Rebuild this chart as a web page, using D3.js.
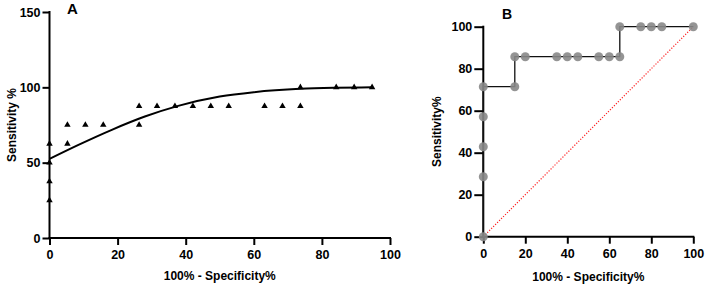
<!DOCTYPE html>
<html>
<head>
<meta charset="utf-8">
<script src="https://cdn.jsdelivr.net/npm/d3@7"></script>
<style>
  body { margin: 0; background: #fff; }
  svg text { font-family: "Liberation Sans", Arial, sans-serif; font-weight: bold; fill: #000; }
  .axis path, .axis line { stroke: #000; stroke-width: 2; }
</style>
</head>
<body>
<svg id="chart" width="705" height="285"></svg>
<script>
// panel A: observed points (100% - specificity, sensitivity)
var aPointsX = [0, 0, 0, 0, 5.26, 5.26, 10.53, 15.79, 26.32, 26.32, 31.58, 36.84, 42.11, 47.37, 52.63, 63.16, 68.42, 73.68, 73.68, 84.21, 89.47, 94.74];
var aPointsY = [25, 37.5, 50, 62.5, 62.5, 75, 75, 75, 75, 87.5, 87.5, 87.5, 87.5, 87.5, 87.5, 87.5, 87.5, 87.5, 100, 100, 100, 100];
// panel A: fitted curve
var aCurveX = [0, 8.5, 18.3, 28, 37.8, 50, 60, 73.6, 84, 94.7];
var aCurveY = [52.5, 61.8, 71.8, 80.6, 87.7, 93.9, 96.8, 99, 99.7, 100];
var aTicksX = [0, 20, 40, 60, 80, 100];
var aTicksY = [0, 50, 100, 150];

// panel B: ROC points and step line
var bPointsX = [0, 0, 0, 0, 0, 15, 15, 20, 35, 40, 45, 55, 60, 65, 65, 75, 80, 85, 100];
var bPointsY = [0, 28.57, 42.86, 57.14, 71.43, 71.43, 85.71, 85.71, 85.71, 85.71, 85.71, 85.71, 85.71, 85.71, 100, 100, 100, 100, 100];
var bStepX = [0, 0, 15, 15, 65, 65, 100];
var bStepY = [0, 71.43, 71.43, 85.71, 85.71, 100, 100];
var bTicks = [0, 20, 40, 60, 80, 100];

var svg = d3.select("#chart");

// ---------- panel A ----------
var xA = d3.scaleLinear().domain([0, 100]).range([49.5, 390]);
var yA = d3.scaleLinear().domain([0, 150]).range([238, 12]);

var gA = svg.append("g");

gA.append("g")
    .attr("class", "axis")
    .attr("transform", "translate(0," + yA(0) + ")")
    .call(d3.axisBottom(xA).tickValues(aTicksX).tickSize(7).tickSizeOuter(0).tickPadding(5))
    .call(function(g){ g.selectAll("text").attr("font-size", 12.5); g.select(".domain").attr("d", "M" + (xA(0) - 1) + ",0H" + (xA(100) + 1)); });

gA.append("g")
    .attr("class", "axis")
    .attr("transform", "translate(" + xA(0) + ",0)")
    .call(d3.axisLeft(yA).tickValues(aTicksY).tickSize(7).tickSizeOuter(0).tickPadding(2))
    .call(function(g){ g.selectAll("text").attr("font-size", 12.5); g.select(".domain").attr("d", "M0," + (yA(150) - 1) + "V" + (yA(0) + 1)); });

var curveA = d3.line()
    .x(function(d, i){ return xA(aCurveX[i]); })
    .y(function(d, i){ return yA(aCurveY[i]); })
    .curve(d3.curveMonotoneX);

gA.append("path")
    .attr("d", curveA(aCurveX))
    .attr("fill", "none")
    .attr("stroke", "#000")
    .attr("stroke-width", 2);

gA.selectAll(".tri")
    .data(aPointsX)
    .enter()
    .append("path")
    .attr("class", "tri")
    .attr("d", d3.symbol().type(d3.symbolTriangle).size(18))
    .attr("transform", function(d, i){ return "translate(" + xA(d) + "," + yA(aPointsY[i]) + ")"; })
    .attr("fill", "#000");

gA.append("text")
    .attr("x", 67)
    .attr("y", 14)
    .attr("font-size", 15)
    .text("A");

gA.append("text")
    .attr("x", (xA(0) + xA(100)) / 2)
    .attr("y", 280)
    .attr("text-anchor", "middle")
    .attr("font-size", 12)
    .text("100% - Specificity%");

gA.append("text")
    .attr("transform", "translate(16," + ((yA(0) + yA(150)) / 2) + ") rotate(-90)")
    .attr("text-anchor", "middle")
    .attr("font-size", 12)
    .text("Sensitivity %");

// ---------- panel B ----------
var xB = d3.scaleLinear().domain([0, 100]).range([483.3, 693.3]);
var yB = d3.scaleLinear().domain([0, 100]).range([236.7, 26.7]);

var gB = svg.append("g");

gB.append("g")
    .attr("class", "axis")
    .attr("transform", "translate(0," + yB(0) + ")")
    .call(d3.axisBottom(xB).tickValues(bTicks).tickSize(7).tickSizeOuter(0).tickPadding(5))
    .call(function(g){ g.selectAll("text").attr("font-size", 12.5); g.select(".domain").attr("d", "M" + (xB(0) - 1) + ",0H" + (xB(100) + 1)); });

gB.append("g")
    .attr("class", "axis")
    .attr("transform", "translate(" + xB(0) + ",0)")
    .call(d3.axisLeft(yB).tickValues(bTicks).tickSize(9).tickSizeOuter(0).tickPadding(2))
    .call(function(g){ g.selectAll("text").attr("font-size", 12.5); g.select(".domain").attr("d", "M0," + (yB(100) - 1) + "V" + (yB(0) + 1)); });

// chance line
gB.append("line")
    .attr("x1", xB(0)).attr("y1", yB(0))
    .attr("x2", xB(100)).attr("y2", yB(100))
    .attr("stroke", "#ff2020")
    .attr("stroke-width", 1.2)
    .attr("stroke-dasharray", "1.2,1.6");

var stepB = d3.line()
    .x(function(d, i){ return xB(bStepX[i]); })
    .y(function(d, i){ return yB(bStepY[i]); });

gB.append("path")
    .attr("d", stepB(bStepX))
    .attr("fill", "none")
    .attr("stroke", "#111")
    .attr("stroke-width", 1.3);

gB.selectAll(".dot")
    .data(bPointsX)
    .enter()
    .append("circle")
    .attr("class", "dot")
    .attr("cx", function(d){ return xB(d); })
    .attr("cy", function(d, i){ return yB(bPointsY[i]); })
    .attr("r", 4.5)
    .attr("fill", "#888")
    .attr("fill-opacity", 0.9);

gB.append("text")
    .attr("x", 502)
    .attr("y", 19)
    .attr("font-size", 14)
    .text("B");

gB.append("text")
    .attr("x", (xB(0) + xB(100)) / 2)
    .attr("y", 281)
    .attr("text-anchor", "middle")
    .attr("font-size", 12)
    .text("100% - Specificity%");

gB.append("text")
    .attr("transform", "translate(441," + ((yB(0) + yB(100)) / 2) + ") rotate(-90)")
    .attr("text-anchor", "middle")
    .attr("font-size", 12)
    .text("Sensitivity%");
</script>
</body>
</html>
